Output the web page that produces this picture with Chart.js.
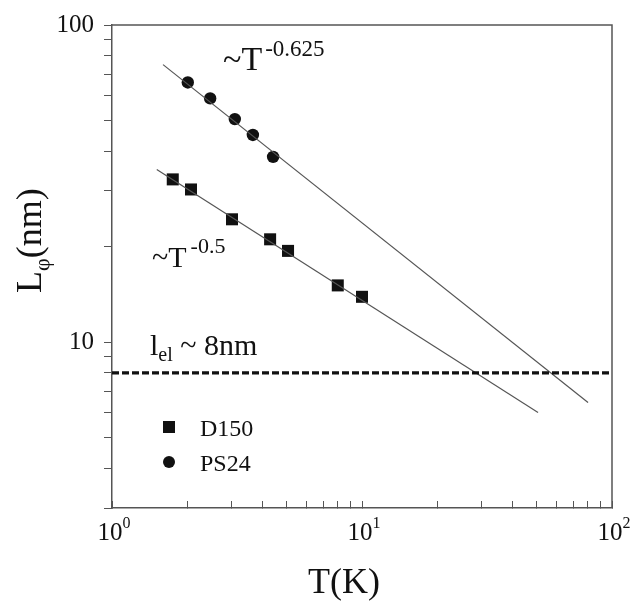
<!DOCTYPE html>
<html>
<head>
<meta charset="utf-8">
<script src="https://cdn.jsdelivr.net/npm/chart.js@4.4.1/dist/chart.umd.min.js"></script>
<style>
  html, body { margin: 0; padding: 0; background: #fff; }
  #wrap { width: 633px; height: 605px; }
</style>
</head>
<body>
<div id="wrap"><canvas id="lphiChart" width="633" height="605"></canvas></div>
<script>
const tempD150 = [1.75, 2.07, 3.02, 4.29, 5.06, 8.0, 10.0];
const lphiD150 = [32.6, 30.3, 24.4, 21.1, 19.4, 15.1, 13.9];
const tempPS24 = [2.01, 2.47, 3.10, 3.66, 4.41];
const lphiPS24 = [65.9, 58.7, 50.5, 45.0, 38.4];

// power-law guide lines
const fitPS24T = [1.6, 80.2];
const fitPS24L = [75.0, 6.45];
const fitD150T = [1.51, 50.6];
const fitD150L = [35.0, 6.0];

// elastic mean free path
const elasticT = [1, 100];
const elasticL = [8, 8];

// axis ticks
const xTickValues = [1, 2, 3, 4, 5, 6, 7, 8, 9, 10, 20, 30, 40, 50, 60, 70, 80, 90, 100];
const xTickLabels = [[1, '0'], [10, '1'], [100, '2']];
const yTickValues = [3, 4, 5, 6, 7, 8, 9, 10, 20, 30, 40, 50, 60, 70, 80, 90, 100];
const yTickLabels = [10, 100];

const serif = "'Liberation Serif', 'Times New Roman', serif";
const ink = '#111';
const lineGrey = '#555';

const toPoints = (xs, ys) => xs.map((x, i) => ({ x: x, y: ys[i] }));

// draws a run of text pieces (for super/subscripts)
function rich(ctx, x, y, parts, align) {
    let total = 0;
    parts.forEach(p => {
        ctx.font = p.size + 'px ' + serif;
        total += ctx.measureText(p.t).width + (p.gap || 0);
    });
    let cx = align === 'center' ? x - total / 2 : x;
    parts.forEach(p => {
        ctx.font = p.size + 'px ' + serif;
        cx += (p.gap || 0);
        ctx.fillText(p.t, cx, y + (p.dy || 0));
        cx += ctx.measureText(p.t).width;
    });
}

const decorations = {
    id: 'decorations',
    afterDraw(chart) {
        const { ctx, chartArea, scales } = chart;
        ctx.save();

        // top and right frame lines
        ctx.strokeStyle = lineGrey;
        ctx.lineWidth = 1.5;
        ctx.beginPath();
        ctx.moveTo(chartArea.left, chartArea.top);
        ctx.lineTo(chartArea.right, chartArea.top);
        ctx.lineTo(chartArea.right, chartArea.bottom);
        ctx.stroke();

        ctx.fillStyle = ink;
        ctx.textBaseline = 'alphabetic';
        ctx.textAlign = 'left';

        // x tick labels 10^n
        xTickLabels.forEach(([v, e]) => {
            const px = scales.x.getPixelForValue(v);
            rich(ctx, px + 2, 540, [
                { t: '10', size: 25 },
                { t: e, size: 16, dy: -12 }
            ], 'center');
        });

        // axis titles
        ctx.font = '36px ' + serif;
        ctx.textAlign = 'center';
        ctx.fillText('T(K)', 344, 593);
        ctx.textAlign = 'left';

        ctx.save();
        ctx.translate(41, 293);
        ctx.rotate(-Math.PI / 2);
        rich(ctx, 0, 0, [
            { t: 'L', size: 36 },
            { t: '\u03c6', size: 22, dy: 8 },
            { t: '(nm)', size: 36 }
        ], 'left');
        ctx.restore();

        // annotations
        rich(ctx, 223, 70, [
            { t: '~T', size: 34 },
            { t: '-0.625', size: 23, dy: -14, gap: 3 }
        ], 'left');
        rich(ctx, 152, 267, [
            { t: '~T', size: 30 },
            { t: '-0.5', size: 22, dy: -14, gap: 4 }
        ], 'left');
        rich(ctx, 150, 355, [
            { t: 'l', size: 30 },
            { t: 'el', size: 20, dy: 6 },
            { t: ' ~ 8nm', size: 30 }
        ], 'left');

        // legend
        ctx.fillRect(163, 421, 12, 12);
        ctx.beginPath();
        ctx.arc(169, 462, 6, 0, Math.PI * 2);
        ctx.fill();
        ctx.font = '24px ' + serif;
        ctx.fillText('D150', 200, 436);
        ctx.fillText('PS24', 200, 471);

        ctx.restore();
    }
};

new Chart(document.getElementById('lphiChart'), {
    type: 'scatter',
    data: {
        datasets: [
            {
                label: 'elastic',
                data: toPoints(elasticT, elasticL),
                showLine: true,
                pointRadius: 0,
                borderColor: ink,
                borderWidth: 3.4,
                borderDash: [7, 3]
            },
            {
                label: 'fit PS24',
                data: toPoints(fitPS24T, fitPS24L),
                showLine: true,
                pointRadius: 0,
                borderColor: lineGrey,
                borderWidth: 1.2
            },
            {
                label: 'fit D150',
                data: toPoints(fitD150T, fitD150L),
                showLine: true,
                pointRadius: 0,
                borderColor: lineGrey,
                borderWidth: 1.2
            },
            {
                label: 'D150',
                data: toPoints(tempD150, lphiD150),
                pointStyle: 'rect',
                pointRadius: 8.5,
                backgroundColor: ink,
                borderColor: ink,
                borderWidth: 0
            },
            {
                label: 'PS24',
                data: toPoints(tempPS24, lphiPS24),
                pointStyle: 'circle',
                pointRadius: 6.2,
                backgroundColor: ink,
                borderColor: ink,
                borderWidth: 0
            }
        ]
    },
    options: {
        responsive: false,
        animation: false,
        layout: { padding: { left: 0, right: 21, top: 19, bottom: 0 } },
        plugins: {
            legend: { display: false },
            tooltip: { enabled: false }
        },
        scales: {
            x: {
                type: 'logarithmic',
                min: 1,
                max: 100,
                afterBuildTicks: (scale) => { scale.ticks = xTickValues.map(v => ({ value: v })); },
                afterFit: (scale) => { scale.height = 97; },
                border: { display: true, color: lineGrey, width: 1.5 },
                // negative length puts the x tick marks inside the frame
                grid: { drawOnChartArea: false, drawTicks: true, tickLength: -7, color: lineGrey, lineWidth: 1 },
                ticks: { display: false }
            },
            y: {
                type: 'logarithmic',
                min: 3,
                max: 100,
                afterBuildTicks: (scale) => { scale.ticks = yTickValues.map(v => ({ value: v })); },
                afterFit: (scale) => { scale.width = 112; },
                border: { display: true, color: lineGrey, width: 1.5 },
                grid: { drawOnChartArea: false, drawTicks: true, tickLength: 8, color: lineGrey, lineWidth: 1 },
                ticks: {
                    autoSkip: false,
                    padding: 10,
                    color: ink,
                    font: { family: serif, size: 25 },
                    callback: (v) => yTickLabels.includes(v) ? String(v) : ''
                }
            }
        }
    },
    plugins: [decorations]
});
</script>
</body>
</html>
